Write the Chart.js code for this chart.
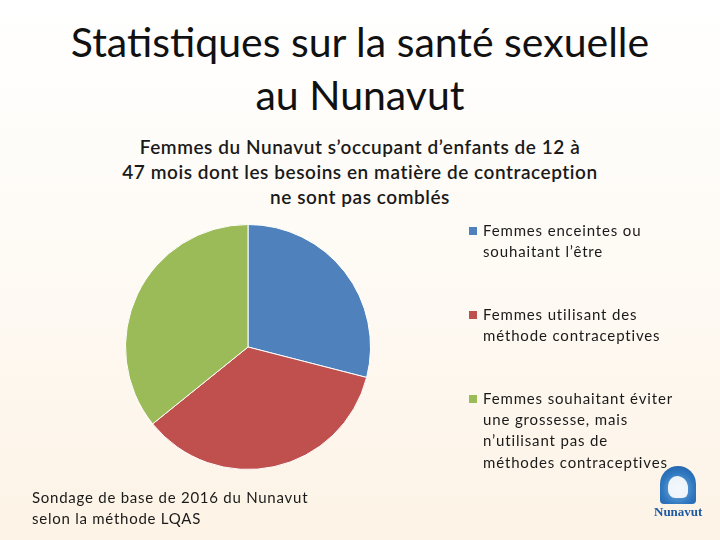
<!DOCTYPE html>
<html lang="fr">
<head>
<meta charset="utf-8">
<script src="https://cdn.jsdelivr.net/npm/chart.js@4.4.1/dist/chart.umd.min.js"></script>
<style>
    html, body { margin: 0; padding: 0; }
    body {
        width: 720px; height: 540px; position: relative; overflow: hidden;
        background: linear-gradient(to bottom, #ffffff 0%, #fefaf4 50%, #fdf3e6 100%);
        font-family: Lato, "Open Sans", sans-serif; color: #111;
    }
    #slideTitle {
        position: absolute; left: 0; top: 15px; width: 720px;
        text-align: center; font-size: 41px; line-height: 53px; color: #111;
    }
    #chartTitle {
        position: absolute; left: 0; top: 134px; width: 720px;
        text-align: center; font-size: 19px; line-height: 25px; font-weight: 600;
        letter-spacing: 0.55px; color: #1a1a1a;
    }
    #chartBox { position: absolute; left: 0; top: 130px; width: 720px; height: 410px; }
    #chartLegend { position: absolute; left: 469px; top: 220px; width: 250px; }
    .legend-item { display: flex; align-items: flex-start; margin-bottom: 41px; }
    .legend-box { width: 8px; height: 8px; margin-top: 7px; margin-right: 6px; flex: none; }
    .legend-text { font-size: 15px; line-height: 21.4px; color: #1a1a1a; letter-spacing: 0.85px; white-space: nowrap; }
    #source {
        position: absolute; left: 32px; top: 487px; font-size: 15px; line-height: 21px;
        color: #1a1a1a; letter-spacing: 0.75px;
    }
    #logo { position: absolute; left: 654px; top: 466px; width: 48px; height: 56px; }
    #logo .arch {
        position: absolute; left: 6px; top: 0; width: 36px; height: 38px;
        background: radial-gradient(circle at 50% 60%, #7fb4df 0%, #2f78c0 55%, #1d5aa0 100%);
        border-radius: 18px 18px 4px 4px;
    }
    #logo .bear {
        position: absolute; left: 14px; top: 10px; width: 20px; height: 22px;
        background: #ffffff; border-radius: 50% 60% 30% 40%; opacity: 0.9;
    }
    #logo .name {
        position: absolute; left: 0; top: 38px; width: 48px; text-align: center;
        font-family: "Liberation Serif", serif; font-size: 13px; font-weight: bold; color: #1d5aa0;
    }
</style>
</head>
<body>
<div id="slideTitle">Statistiques sur la santé sexuelle<br>au Nunavut</div>
<div id="chartTitle"></div>
<div id="chartBox"><canvas id="pieChart"></canvas></div>
<div id="chartLegend"></div>
<div id="source">Sondage de base de 2016 du Nunavut<br>selon la méthode LQAS</div>
<div id="logo"><div class="arch"></div><div class="bear"></div><div class="name">Nunavut</div></div>
<script>
// Chart data (percent of women)
const chartTitle = [
    'Femmes du Nunavut s\u2019occupant d\u2019enfants de 12 à',
    '47 mois dont les besoins en matière de contraception',
    'ne sont pas comblés'
];
const chartLabels = [
    ['Femmes enceintes ou', 'souhaitant l\u2019être'],
    ['Femmes utilisant des', 'méthode contraceptives'],
    ['Femmes souhaitant éviter', 'une grossesse, mais', 'n\u2019utilisant pas de', 'méthodes contraceptives']
];
const chartData = [29, 35.2, 35.8];
const chartColors = ['#4f81bd', '#c0504d', '#9bbb59'];

// Create pie chart
function createPieChart() {
    const ctx = document.getElementById('pieChart');
    new Chart(ctx, {
        type: 'pie',
        data: {
            labels: chartLabels.map(l => l.join(' ')),
            datasets: [{
                data: chartData,
                backgroundColor: chartColors,
                borderWidth: 1,
                borderColor: '#ffffff'
            }]
        },
        options: {
            responsive: true,
            maintainAspectRatio: false,
            animation: false,
            layout: {
                // keeps the pie in the left part, under the title
                padding: { left: 125, right: 349, top: 94, bottom: 70 }
            },
            plugins: {
                legend: { display: false },
                tooltip: { enabled: false }
            }
        }
    });
    document.getElementById('chartTitle').innerHTML = chartTitle.join('<br>');
    createCustomLegend(chartLabels, chartColors);
}

// Legend on the right side
function createCustomLegend(labels, colors) {
    const legendContainer = document.getElementById('chartLegend');
    legendContainer.innerHTML = '';
    labels.forEach((lines, index) => {
        const item = document.createElement('div');
        item.className = 'legend-item';
        item.innerHTML = `
            <div class="legend-box" style="background-color: ${colors[index]};"></div>
            <div class="legend-text">${lines.join('<br>')}</div>
        `;
        legendContainer.appendChild(item);
    });
}

createPieChart();
</script>
</body>
</html>
